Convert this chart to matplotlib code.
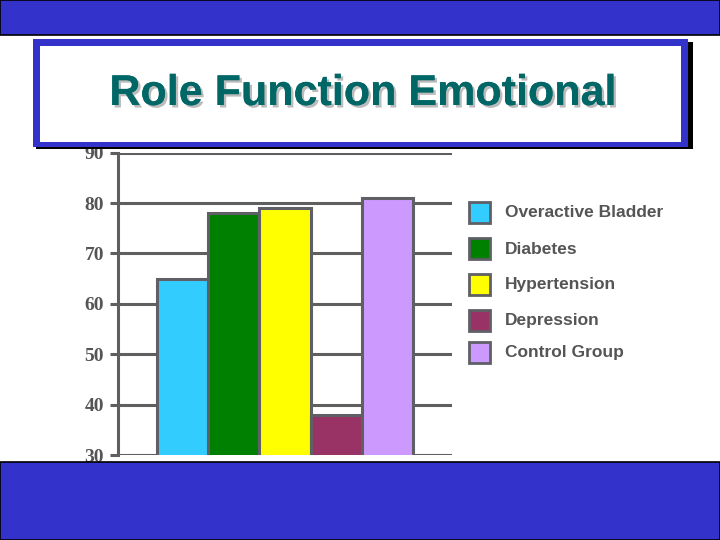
import matplotlib
matplotlib.use("Agg")
import matplotlib.pyplot as plt
import matplotlib.patheffects as pe
from matplotlib.patches import Rectangle

# data
groups = ["Overactive Bladder", "Diabetes", "Hypertension", "Depression", "Control Group"]
scores = [65, 78, 79, 38, 81]
colors = ["#33CCFF", "#008000", "#FFFF00", "#993366", "#CC99FF"]
yticks = [30, 40, 50, 60, 70, 80, 90]

W, H = 720, 540
fig = plt.figure(figsize=(7.2, 5.4), dpi=100)
fig.patch.set_facecolor("white")

band = "#3333CC"
grey = "#5F5F5F"


def px(x0, y0, w, h):
    # pixel box (top-left origin) -> figure fraction
    return x0 / W, 1 - (y0 + h) / H, w / W, h / H


# top / bottom blue bands
x, y, w, h = px(0, 0, W, 35)
fig.add_artist(Rectangle((x, y), w, h, transform=fig.transFigure, facecolor=band,
                         edgecolor="black", lw=1.2, zorder=5))
x, y, w, h = px(0, 462, W, 78)
fig.add_artist(Rectangle((x, y), w, h, transform=fig.transFigure, facecolor=band,
                         edgecolor="black", lw=1.2, zorder=5))

# chart
ax = fig.add_axes([118 / W, 1 - 455 / H, (452 - 118) / W, (455 - 152.7) / H])
pos = list(range(len(groups)))
ax.bar(pos, scores, width=1.0, color=colors, edgecolor="#5F5F66", linewidth=2.2, zorder=3)
ax.set_ylim(30, 90)
ax.set_xlim(-0.5 - 0.77, len(groups) - 0.5 + 0.77)
ax.set_yticks(yticks)
ax.set_xticks([])
ax.yaxis.grid(True, color=grey, lw=2.2)
ax.set_axisbelow(True)
for s in ["top", "right", "bottom"]:
    ax.spines[s].set_visible(False)
ax.spines["left"].set_color(grey)
ax.spines["left"].set_linewidth(2.2)
ax.tick_params(axis="y", length=6, width=2.2, color=grey, pad=4)
for lab in ax.get_yticklabels():
    lab.set_fontfamily("Liberation Serif")
    lab.set_fontweight("bold")
    lab.set_fontsize(14)
    lab.set_color("#555555")
ax.patch.set_alpha(0)

# title box with shadow
x, y, w, h = px(36, 42, 657, 107)
fig.add_artist(Rectangle((x, y), w, h, transform=fig.transFigure, facecolor="black",
                         edgecolor="none", zorder=6))
x, y, w, h = px(33, 39, 655, 108)
fig.add_artist(Rectangle((x, y), w, h, transform=fig.transFigure, facecolor=band,
                         edgecolor="none", zorder=7))
x, y, w, h = px(40, 46, 641, 96)
fig.add_artist(Rectangle((x, y), w, h, transform=fig.transFigure, facecolor="white",
                         edgecolor="none", zorder=8))
fig.text(362 / W, 1 - 94 / H, "Role Function Emotional", ha="center", va="center",
         fontsize=31, fontweight="bold", family="Liberation Sans", color="#006666", zorder=10,
         path_effects=[pe.withSimplePatchShadow(offset=(1.8, -1.8), shadow_rgbFace="#BBBBBB",
                                                alpha=1.0), pe.Normal()])

# legend
legend_tops = [202, 238, 274, 310, 342]
for name, c, top in zip(groups, colors, legend_tops):
    x, y, w, h = px(469, top, 21, 21)
    fig.add_artist(Rectangle((x, y), w, h, transform=fig.transFigure, facecolor=c,
                             edgecolor="#5F5F66", lw=2, zorder=4))
    fig.text(505 / W, 1 - (top + 11) / H, name, ha="left", va="center",
             fontsize=12.5, fontweight="bold", family="Liberation Sans", color="#555555")

fig.savefig("out.png", dpi=100)
